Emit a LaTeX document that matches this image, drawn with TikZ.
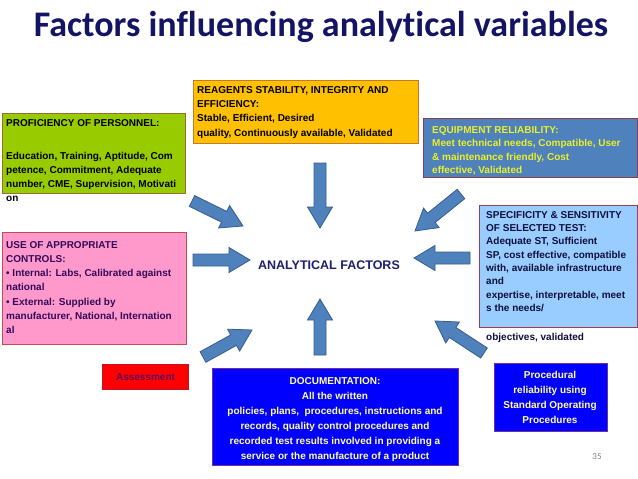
\documentclass[tikz,border=0pt]{standalone}
\usepackage{fontspec}
\setmainfont{Liberation Sans}
\newfontfamily\titlefont[Ligatures=NoCommon]{Carlito}
\definecolor{titlenavy}{RGB}{20,20,100}
\definecolor{factornavy}{RGB}{30,30,110}
\definecolor{profgreen}{RGB}{153,204,0}
\definecolor{profline}{RGB}{150,110,50}
\definecolor{reagentgold}{RGB}{255,192,0}
\definecolor{reagentline}{RGB}{200,120,40}
\definecolor{equipblue}{RGB}{79,129,189}
\definecolor{equipline}{RGB}{140,60,80}
\definecolor{equiptext}{RGB}{235,240,40}
\definecolor{ctrlpink}{RGB}{255,153,204}
\definecolor{ctrlline}{RGB}{192,80,77}
\definecolor{ctrltext}{RGB}{50,10,90}
\definecolor{specblue}{RGB}{153,204,255}
\definecolor{specline}{RGB}{160,60,80}
\definecolor{spectext}{RGB}{15,15,60}
\definecolor{assessred}{RGB}{255,0,0}
\definecolor{assessline}{RGB}{190,20,40}
\definecolor{assesstext}{RGB}{100,0,90}
\definecolor{docblue}{RGB}{0,0,255}
\definecolor{docline}{RGB}{112,48,160}
\definecolor{doctext}{RGB}{255,255,160}
\definecolor{arrowfill}{RGB}{79,129,189}
\definecolor{arrowline}{RGB}{56,93,138}
\usetikzlibrary{calc}

% block arrow from tail coordinate #1 to tip coordinate #2
\newcommand{\blockarrow}[2]{%
  \coordinate (#2-b) at ($(#2)!21pt!(#1)$);
  \draw[fatarrow] ($(#1)!6pt!90:(#2)$) -- ($(#2-b)!6pt!90:(#2)$) -- ($(#2-b)!12.5pt!90:(#2)$)
    -- (#2) -- ($(#2-b)!12.5pt!-90:(#2)$) -- ($(#2-b)!6pt!-90:(#2)$) -- ($(#1)!6pt!-90:(#2)$) -- cycle;
}

\begin{document}
\begin{tikzpicture}[x=1pt, y=-1pt,
  box/.style={draw, line width=1pt, anchor=north west, inner sep=0pt},
  boxtext/.style={anchor=north west, align=left, inner sep=0pt, font=\fontsize{10}{13.8}\selectfont\bfseries},
  fatarrow/.style={draw=arrowline, fill=arrowfill, line width=0.8pt, line join=miter}]
  \fill[white] (0,0) rectangle (638,479);
  \useasboundingbox (0,0) rectangle (638,479);

  % Title
  \node[anchor=base, text=titlenavy, font=\titlefont\fontsize{36}{42}\selectfont\bfseries] (title) at (321,36) {Factors influencing analytical variables};

  % Centre
  \node[text=factornavy, font=\fontsize{12.5}{15}\selectfont\bfseries] (centre) at (329,265) {ANALYTICAL FACTORS};

  % Top left: personnel
  \node[box, fill=profgreen, draw=profline, minimum width=183, minimum height=80] (profBox) at (2,113) {};
  \node[boxtext, text=black] (profText) at (6,119.2) {PROFICIENCY OF PERSONNEL:\\[19.5pt]
    Education, Training, Aptitude, Com\\ petence, Commitment, Adequate\\
    number, CME, Supervision, Motivati\\ on};

  % Top: reagents
  \node[box, fill=reagentgold, draw=reagentline, minimum width=225, minimum height=63] (reagBox) at (193,80) {};
  \node[boxtext, text=black, font=\fontsize{10}{14.3}\selectfont\bfseries] (reagText) at (197,86.2) {REAGENTS STABILITY, INTEGRITY AND\\
    EFFICIENCY:\\ Stable, Efficient, Desired\\ quality, Continuously available, Validated};

  % Top right: equipment
  \node[box, fill=equipblue, draw=equipline, minimum width=214, minimum height=59] (equipBox) at (423,118) {};
  \node[boxtext, text=equiptext, font=\fontsize{10}{13.4}\selectfont\bfseries] (equipText) at (432,126.2) {EQUIPMENT RELIABILITY:\\
    Meet technical needs, Compatible, User\\ \& maintenance friendly, Cost\\ effective, Validated};

  % Left: controls
  \node[box, fill=ctrlpink, draw=ctrlline, minimum width=184, minimum height=112] (ctrlBox) at (2,232) {};
  \node[boxtext, text=ctrltext, font=\fontsize{10}{14.2}\selectfont\bfseries] (ctrlText) at (6,241.2) {USE OF APPROPRIATE\\ CONTROLS:\\
    • Internal: Labs, Calibrated against\\ national\\ • External: Supplied by\\
    manufacturer, National, Internation\\ al};

  % Right: specificity
  \node[box, fill=specblue, draw=specline, minimum width=158, minimum height=122] (specBox) at (479,205) {};
  \node[boxtext, text=spectext, font=\fontsize{10}{13.3}\selectfont\bfseries] (specText) at (486,211.2) {SPECIFICITY \& SENSITIVITY\\
    OF SELECTED TEST:\\ Adequate ST, Sufficient\\ SP, cost effective, compatible\\
    with, available infrastructure\\ and\\ expertise, interpretable, meet\\ s the needs/\\[15.5pt]
    objectives, validated};

  % Bottom left: assessment
  \node[box, fill=assessred, draw=assessline, minimum width=86, minimum height=25] (assessBox) at (102,364) {};
  \node[text=assesstext, font=\fontsize{10}{12}\selectfont\bfseries] (assessText) at (assessBox.center) {Assessment};

  % Bottom: documentation
  \node[box, fill=docblue, draw=docline, minimum width=246, minimum height=97] (docBox) at (212,368) {};
  \node[boxtext, anchor=north, align=center, text=doctext, font=\fontsize{10}{15}\selectfont\bfseries] (docText) at (335,377.2) {DOCUMENTATION:\\
    All the written\\ policies, plans,\ \ procedures, instructions and\\ records, quality control procedures and\\
    recorded test results involved in providing a\\ service or the manufacture of a product};

  % Bottom right: procedures
  \node[box, fill=docblue, draw=docline, minimum width=113, minimum height=68] (procBox) at (494,363) {};
  \node[boxtext, anchor=north, align=center, text=doctext, font=\fontsize{10}{15}\selectfont\bfseries] (procText) at (550,371.2) {Procedural\\
    reliability using\\ Standard Operating\\ Procedures};

  % Page number
  \node[text=gray, font=\titlefont\fontsize{9}{10}\selectfont] (pageNo) at (597,457) {35};

  % Arrows into the centre
  \coordinate (topTail) at (320,163);   \coordinate (topTip) at (320,228);
  \coordinate (botTail) at (320,355);   \coordinate (botTip) at (320,299);
  \coordinate (leftTail) at (193,260);  \coordinate (leftTip) at (250,260);
  \coordinate (rightTail) at (470,258); \coordinate (rightTip) at (414,258);
  \coordinate (ulTail) at (192,201);    \coordinate (ulTip) at (243,226);
  \coordinate (urTail) at (461,194);    \coordinate (urTip) at (415,231);
  \coordinate (llTail) at (203,357);    \coordinate (llTip) at (252,330);
  \coordinate (lrTail) at (484,353);    \coordinate (lrTip) at (435,321);
  \foreach \a in {top,bot,left,right,ul,ur,ll,lr}{
    \blockarrow{\a Tail}{\a Tip}
  }
\end{tikzpicture}
\end{document}
